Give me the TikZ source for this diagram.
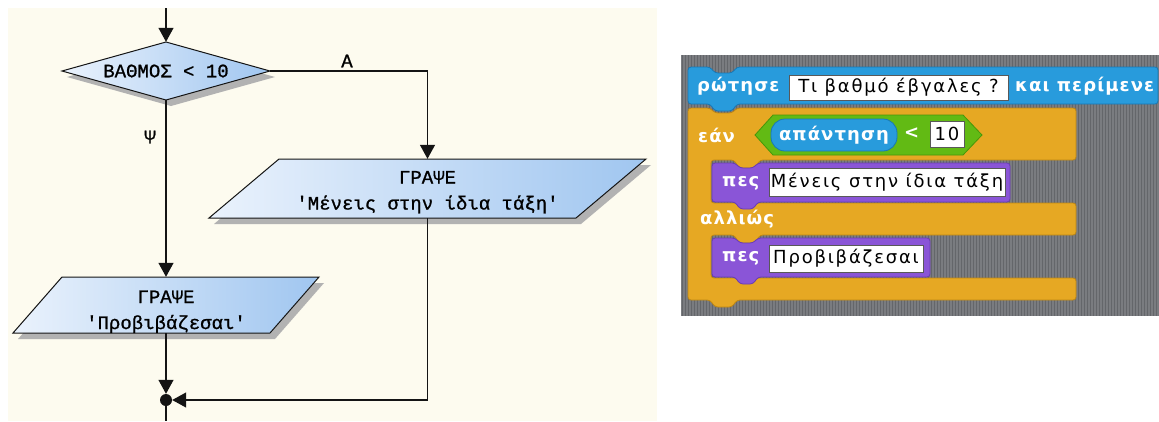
\documentclass[tikz,border=0pt]{standalone}
\usepackage{fontspec}
\usetikzlibrary{arrows.meta}
\newfontfamily\flowfont{Liberation Mono}[Ligatures=TeXOff, FakeBold=1]
\newfontfamily\blockfont{DejaVu Sans}[LetterSpace=6]
\newfontfamily\slotfont{DejaVu Sans}[LetterSpace=10]
\definecolor{cream}{RGB}{253,251,239}
\definecolor{ink}{RGB}{20,20,20}
\definecolor{flowlight}{RGB}{234,242,252}
\definecolor{flowdark}{RGB}{160,198,240}
\definecolor{shadowgray}{RGB}{178,178,178}
\definecolor{stagegray}{RGB}{122,124,128}
\definecolor{stagestripe}{RGB}{100,102,106}
\definecolor{sensing}{RGB}{40,155,220}
\definecolor{sensingdark}{RGB}{25,120,180}
\definecolor{control}{RGB}{230,168,35}
\definecolor{controldark}{RGB}{190,135,20}
\definecolor{operator}{RGB}{98,186,20}
\definecolor{operatordark}{RGB}{70,150,10}
\definecolor{looks}{RGB}{138,85,215}
\definecolor{looksdark}{RGB}{105,60,180}
\tikzset{
  flowshape/.style={draw=ink, line width=1pt, left color=flowlight, right color=flowdark},
  flowshadow/.style={fill=shadowgray, shift={(5,6)}},
  flowtext/.style={rectangle, inner sep=0pt, align=center,
    font=\flowfont\fontsize{19}{26}\selectfont},
  flowarrow/.style={draw=ink, line width=1.3pt, -{Triangle[length=14pt,width=15pt]}},
  flowedge/.style={draw=ink, line width=1.3pt},
  flowlabel/.style={font=\flowfont\fontsize{19}{19}\selectfont, inner sep=0pt},
  junction/.style={circle, fill=ink, minimum size=12pt, inner sep=0pt},
  blocklabel/.style={text=white, font=\blockfont\bfseries\fontsize{18}{18}\selectfont, inner sep=0pt, anchor=west},
  slot/.style={fill=white, draw=gray!70!black, line width=0.6pt, inner sep=0pt,
    font=\slotfont\fontsize{18}{18}\selectfont, text=black},
  reporter/.style={fill=sensing, draw=sensingdark, line width=0.8pt, rounded corners=14pt,
    minimum width=126pt, minimum height=32pt, inner sep=0pt, text=white,
    font=\blockfont\bfseries\fontsize{18}{18}\selectfont},
  stackblock/.style={line width=0.8pt, rounded corners=3pt},
}
\begin{document}
\begin{tikzpicture}[x=1pt, y=-1pt]
\useasboundingbox (0,0) rectangle (1159,421);
\fill[white] (0,0) rectangle (1159,421);

% ---------------- flowchart ----------------
\fill[cream] (8,8) rectangle (657,421);

% decision diamond
\fill[flowshadow] (62,71) -- (166,42) -- (270,71) -- (166,100) -- cycle;
\path[flowshape] (62,71) -- (166,42) -- (270,71) -- (166,100) -- cycle;
% output parallelograms
\fill[flowshadow] (279,159) -- (646,159) -- (576,218) -- (209,218) -- cycle;
\path[flowshape] (279,159) -- (646,159) -- (576,218) -- (209,218) -- cycle;
\fill[flowshadow] (62,277) -- (319,277) -- (270,333) -- (13,333) -- cycle;
\path[flowshape] (62,277) -- (319,277) -- (270,333) -- (13,333) -- cycle;

\node[flowtext, minimum width=208pt, minimum height=58pt] (dec) at (166,71) {ΒΑΘΜΟΣ < 10};
\node[flowtext, minimum height=59pt] (out1) at (427.5,188.5)
      {\rule{0pt}{20pt}ΓΡΑΨΕ\\'Μένεις στην ίδια τάξη'};
\node[flowtext, minimum height=56pt] (out2) at (166,305)
      {\rule{0pt}{26pt}ΓΡΑΨΕ\\'Προβιβάζεσαι'};
\node[junction] (join) at (166,400) {};
\coordinate (entry) at (166,8);
\coordinate (exit) at (166,421);

\draw[flowarrow] (entry) -- (dec.north);
\draw[flowarrow] (dec.east) -| (out1.north);
\draw[flowarrow] (dec.south) -- (out2.north);
\draw[flowarrow] (out2.south) -- (join.north);
\draw[flowarrow] (out1.south) |- (join.east);
\draw[flowedge] (join.south) -- (exit);

\node[flowlabel] (yes) at (347,61) {Α};
\node[flowlabel] (no) at (150,137) {Ψ};

% ---------------- scratch script ----------------
\fill[stagegray] (681,55) rectangle (1159,316);
\foreach \x in {682,685,...,1158} \draw[stagestripe, line width=1pt] (\x,55) -- (\x,316);

% ask block
\draw[stackblock, fill=sensing, draw=sensingdark]
  (688,67) -- (710,67) -- (715,73) -- (732,73) -- (737,67) -- (1158,67) -- (1158,104)
  -- (737,104) -- (732,111) -- (715,111) -- (710,104) -- (688,104) -- cycle;
% if / else block
\draw[stackblock, fill=control, draw=controldark]
  (688,108) -- (710,108) -- (715,113) -- (732,113) -- (737,108) -- (1076,108) -- (1076,160)
  -- (760,160) -- (755,168) -- (739,168) -- (734,160) -- (711,160) -- (711,203)
  -- (1076,203) -- (1076,235)
  -- (760,235) -- (755,243) -- (739,243) -- (734,235) -- (711,235) -- (711,278)
  -- (1076,278) -- (1076,300)
  -- (737,300) -- (732,307) -- (715,307) -- (710,300) -- (688,300) -- cycle;
% say blocks
\draw[stackblock, fill=looks, draw=looksdark]
  (712,163) -- (735,163) -- (740,168) -- (753,168) -- (758,163) -- (1010,163) -- (1010,202)
  -- (758,202) -- (753,209) -- (740,209) -- (735,202) -- (712,202) -- cycle;
\draw[stackblock, fill=looks, draw=looksdark]
  (712,238) -- (735,238) -- (740,243) -- (753,243) -- (758,238) -- (930,238) -- (930,277)
  -- (758,277) -- (753,284) -- (740,284) -- (735,277) -- (712,277) -- cycle;
% comparison
\draw[fill=operator, draw=operatordark, line width=0.8pt]
  (755,135) -- (773,115) -- (963,115) -- (982,135) -- (963,155) -- (773,155) -- cycle;

\node[blocklabel] (ask) at (697,86) {ρώτησε};
\node[slot, minimum width=219pt, minimum height=25pt] (question) at (898.5,87.5) {Τι βαθμό έβγαλες ?};
\node[blocklabel] (wait) at (1015,86) {και περίμενε};
\node[blocklabel] (if) at (698,135) {εάν};
\node[reporter] (answer) at (834,135) {απάντηση};
\node[blocklabel] (less) at (904,133) {<};
\node[slot, minimum width=34pt, minimum height=26pt] (ten) at (947,134) {10};
\node[blocklabel] (say1) at (722,183) {πες};
\node[slot, minimum width=236pt, minimum height=28pt] (msg1) at (887,182) {Μένεις στην ίδια τάξη};
\node[blocklabel] (else) at (700,219) {αλλιώς};
\node[blocklabel] (say2) at (722,258) {πες};
\node[slot, minimum width=154pt, minimum height=27pt] (msg2) at (846,258.5) {Προβιβάζεσαι};
\end{tikzpicture}
\end{document}
